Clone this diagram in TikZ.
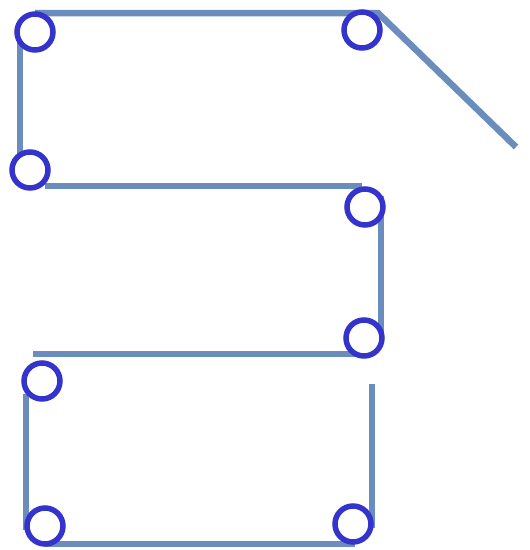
\documentclass[tikz,border=0pt]{standalone}
\usepackage{xcolor}
\usepackage{tikz}
\definecolor{wireblue}{HTML}{6A8DBE}
\definecolor{ringblue}{HTML}{3434CC}

\begin{document}
\begin{tikzpicture}[x=1pt, y=-1pt,
  wire/.style={draw=wireblue, line width=6.5pt},
  ring/.style={circle, draw=ringblue, fill=white, line width=5.5pt, minimum size=36pt, inner sep=0pt}]
\useasboundingbox (0,0) rectangle (530,550);
% corners of the wire
\coordinate (t1) at (35,13);  \coordinate (t2) at (378,13);  \coordinate (t3) at (516,147);
\coordinate (l1) at (20,42);  \coordinate (l2) at (20,166);
\coordinate (m1) at (45,186); \coordinate (m2) at (362,186);
\coordinate (r1) at (381,196); \coordinate (r2) at (381,332);
\coordinate (n1) at (33,354); \coordinate (n2) at (365,354);
\coordinate (k1) at (26,394); \coordinate (k2) at (26,530);
\coordinate (b1) at (45,544); \coordinate (b2) at (355,544);
\coordinate (s1) at (372,384); \coordinate (s2) at (372,528);
\draw[wire] (t1) -- (t2) -- (t3);
\draw[wire] (l1) -- (l2); \draw[wire] (m1) -- (m2);
\draw[wire] (r1) -- (r2); \draw[wire] (n1) -- (n2);
\draw[wire] (k1) -- (k2); \draw[wire] (b1) -- (b2);
\draw[wire] (s1) -- (s2);
% rings
\node[ring] (p1) at (35,32) {};
\node[ring] (p2) at (362,30) {};
\node[ring] (p3) at (30,170) {};
\node[ring] (p4) at (365,207) {};
\node[ring] (p5) at (364,338) {};
\node[ring] (p6) at (42,381) {};
\node[ring] (p7) at (45,526) {};
\node[ring] (p8) at (353,524) {};
\end{tikzpicture}
\end{document}
